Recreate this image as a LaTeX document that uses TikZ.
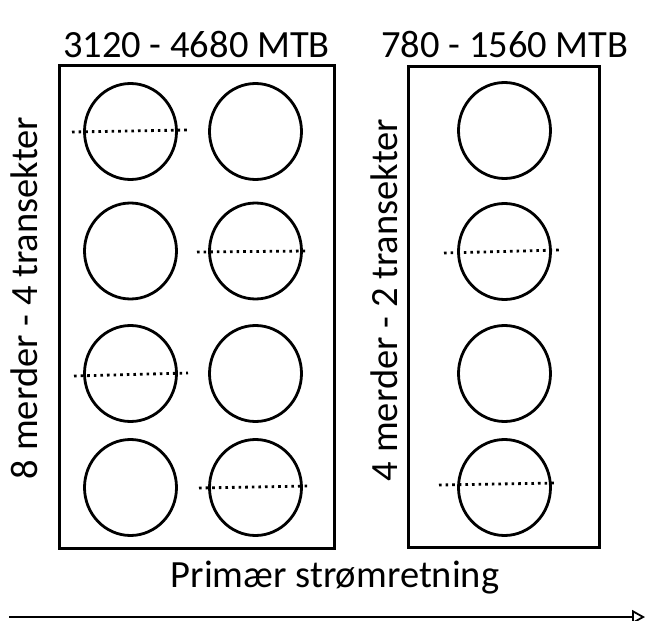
\documentclass[tikz,border=0pt]{standalone}
\usepackage{fontspec}
\setmainfont{Carlito}
\usetikzlibrary{shapes.geometric,arrows.meta}
\begin{document}
\begin{tikzpicture}[x=1pt,y=-1pt,
  lbl/.style={font=\fontsize{38.5}{44}\selectfont, inner sep=0pt},
  pen/.style={draw=black, line width=3pt},
  cage/.style={ellipse, draw=black, line width=2.8pt, minimum width=92pt, minimum height=96pt, inner sep=0pt},
  transect/.style={draw=black, line width=2.8pt, dash pattern=on 2.6pt off 4pt},
  flow/.style={draw=black, line width=2.8pt, -{Triangle[open, length=13pt, width=14pt, line width=1.8pt]}}]
\useasboundingbox (0,0) rectangle (646,621);
% boxes
\node[pen, rectangle, inner sep=0pt, minimum width=275pt, minimum height=483pt] (boxL) at (196.5,306.5) {};
\node[pen, rectangle, inner sep=0pt, minimum width=191pt, minimum height=481pt] (boxR) at (503.5,306.5) {};
% titles
\node[lbl, anchor=base] (tL) at (196.5,57) {3120 - 4680 MTB};
\node[lbl, anchor=base] (tR) at (505,57) {780 - 1560 MTB};
% side labels
\node[lbl, anchor=base, rotate=90] (sL) at (37,298) {8 merder - 4 transekter};
\node[lbl, anchor=base, rotate=90] (sR) at (397,300) {4 merder - 2 transekter};
% cages left box
\node[cage] (c11) at (130.5,131.5) {};
\node[cage] (c12) at (255.5,131.5) {};
\node[cage] (c21) at (130.5,251) {};
\node[cage] (c22) at (255.5,251) {};
\node[cage] (c31) at (130.5,373.5) {};
\node[cage] (c32) at (255.5,373.5) {};
\node[cage] (c41) at (130.5,487.5) {};
\node[cage] (c42) at (255.5,487.5) {};
% cages right box
\node[cage] (r1) at (504.5,130.5) {};
\node[cage] (r2) at (504.5,251.5) {};
\node[cage] (r3) at (504.5,373.5) {};
\node[cage] (r4) at (504.5,487.5) {};
% transects
\coordinate (t1a) at (72,132); \coordinate (t1b) at (187,130);
\coordinate (t2a) at (197,252); \coordinate (t2b) at (308,251);
\coordinate (t3a) at (74,376); \coordinate (t3b) at (188,373);
\coordinate (t4a) at (199,488); \coordinate (t4b) at (309,486);
\coordinate (t5a) at (444,253); \coordinate (t5b) at (560,250);
\coordinate (t6a) at (439,485); \coordinate (t6b) at (557,483);
\draw[transect] (t1a) -- (t1b);
\draw[transect] (t2a) -- (t2b);
\draw[transect] (t3a) -- (t3b);
\draw[transect] (t4a) -- (t4b);
\draw[transect] (t5a) -- (t5b);
\draw[transect] (t6a) -- (t6b);
% flow direction
\node[lbl, anchor=base] (flowtxt) at (335,587) {Primær strømretning};
\coordinate (f0) at (9,617);
\coordinate (f1) at (645,617);
\draw[flow] (f0) -- (f1);
\end{tikzpicture}
\end{document}
